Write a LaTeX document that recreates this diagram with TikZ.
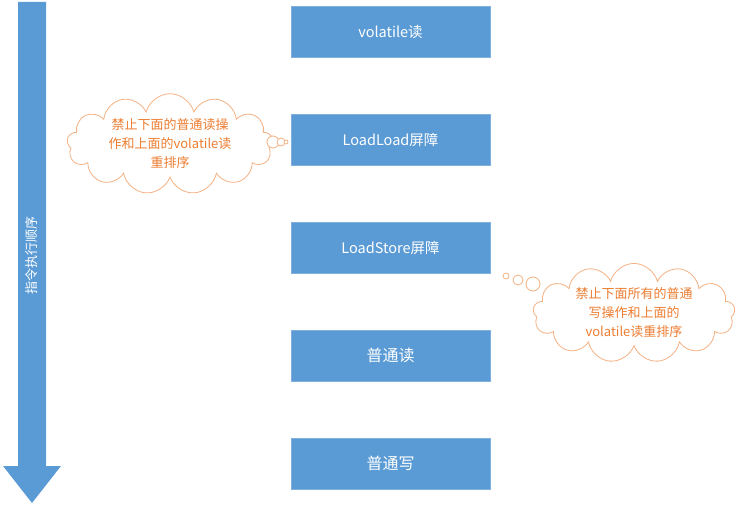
\documentclass[tikz,border=0pt]{standalone}
\usepackage{fontspec}
\setmainfont{Noto Sans CJK SC}
\usetikzlibrary{positioning}
\usetikzlibrary{shapes.symbols}
\definecolor{boxblue}{HTML}{5B9BD5}
\definecolor{boxline}{HTML}{7FB0DE}
\definecolor{cloudline}{HTML}{F4B183}
\definecolor{cloudtext}{HTML}{ED7D31}

\begin{document}
\begin{tikzpicture}[x=1pt, y=-1pt,
    stepbox/.style={rectangle, fill=boxblue, draw=boxline, text=white,
        minimum width=199pt, minimum height=51pt, inner sep=0pt,
        font=\fontsize{14.5}{17}\selectfont},
    bigtext/.style={font=\fontsize{16}{19}\selectfont},
    note/.style={cloud, cloud puffs=13, cloud ignores aspect, draw=cloudline,
        fill=white, thick, text=cloudtext, align=center, inner sep=0pt,
        font=\fontsize{13}{19}\selectfont},
    puff/.style={circle, draw=cloudline, fill=white, thick, inner sep=0pt}]

    \useasboundingbox (0,0) rectangle (736,508);

    % order arrow
    \fill[boxblue] (18,2) -- (46,2) -- (46,466) -- (61,466) -- (32,503)
        -- (3,466) -- (18,466) -- cycle;
    \node[rotate=90, text=white, font=\fontsize{13}{15}\selectfont] (order) at (32,255) {指令执行顺序};

    % barriers
    \node[stepbox] (vread) at (390.5,32) {volatile读};
    \node[stepbox, below=56.5pt of vread] (ll) {LoadLoad屏障};
    \node[stepbox, below=56.5pt of ll] (ls) {LoadStore屏障};
    \node[stepbox, bigtext, below=56.5pt of ls] (nread) {普通读};
    \node[stepbox, bigtext, below=56.5pt of nread] (nwrite) {普通写};

    % notes
    \node[note, minimum width=206pt, minimum height=92pt] (note1) at (170,144)
        {禁止下面的普通读操\\作和上面的volatile读\\重排序};
    \node[puff, minimum size=12pt] (p1a) at (273,142) {};
    \node[puff, minimum size=8pt] (p1b) at (281,142) {};
    \node[puff, minimum size=4pt] (p1c) at (286,142) {};

    \node[note, minimum width=202pt, minimum height=90pt] (note2) at (634,313)
        {禁止下面所有的普通\\写操作和上面的\\volatile读重排序};
    \node[puff, minimum size=6pt] (p2a) at (506,276) {};
    \node[puff, minimum size=10pt] (p2b) at (518,280) {};
    \node[puff, minimum size=14pt] (p2c) at (533,284) {};

\end{tikzpicture}
\end{document}
